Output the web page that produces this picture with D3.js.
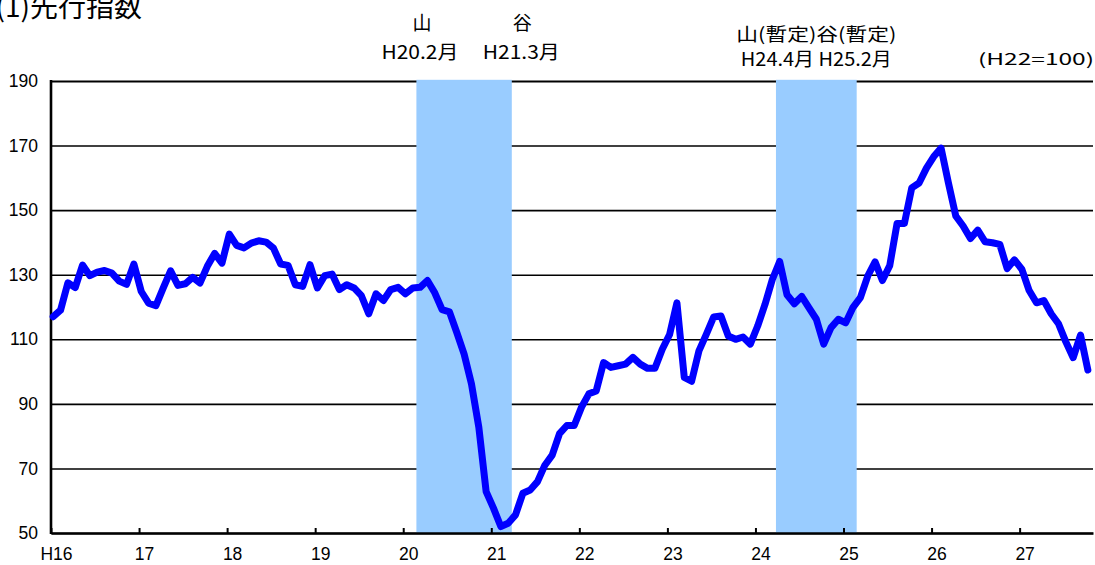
<!DOCTYPE html>
<html>
<head>
<meta charset="utf-8">
<script src="https://cdn.jsdelivr.net/npm/d3@7"></script>
<style>
    body { margin: 0; background: #fff; }
    svg { display: block; font-family: "Noto Sans CJK JP", "Noto Sans", sans-serif; }
</style>
</head>
<body>
<svg id="chart" width="1095" height="565"></svg>
<script>
// 先行指数 (H22=100), monthly from H16.1 to H27.10
var values = [
    117, 119, 127.5, 126, 133, 129.7, 130.8, 131.3, 130.5, 128, 127, 133.3,
    124.8, 121.2, 120.4, 125.9, 131.2, 126.7, 127.2, 129.2, 127.4, 132.6, 136.6, 133.6,
    142.6, 139.1, 138.3, 139.8, 140.5, 140.1, 138.3, 133.3, 132.9, 126.9, 126.4, 133.1,
    125.9, 129.7, 130.2, 125.4, 126.9, 125.9, 123.5, 117.9, 124.1, 122, 125.4, 126.1,
    124.1, 125.9, 126.1, 128.2, 124.4, 119.2, 118.5, 112.1, 105.4, 96.2, 82.8, 62.8,
    57.7, 52, 53, 55.6, 62.3, 63.3, 65.9, 71, 74.1, 80.8, 83.3, 83.3,
    89, 93.1, 94, 102.8, 101.3, 101.8, 102.3, 104.4, 102.3, 101, 101, 106.9,
    111.5, 121.3, 98.2, 97, 106.4, 111.5, 116.9, 117.2, 111, 110, 110.7, 108.5,
    114.1, 120.8, 128.5, 134.1, 123.8, 121, 123.3, 119.7, 116.2, 108.5, 113.6, 116.2,
    115.1, 119.9, 122.9, 129.6, 134, 128.2, 132.8, 145.9, 145.9, 156.9, 158.4, 163,
    166.6, 169.2, 158.4, 148.2, 145.1, 141.2, 143.8, 140.2, 139.9, 139.4, 131.9, 134.6,
    131.7, 125.1, 121.3, 122, 117.9, 114.8, 109.2, 104.3, 111.3, 100.5
];

var yearLabels = ["H16", "17", "18", "19", "20", "21", "22", "23", "24", "25", "26", "27"];
var yTicks = [50, 70, 90, 110, 130, 150, 170, 190];

// recession bands, in month index from H16.1
var bandMonths = [[50, 63], [99, 110]];
var band1Marks = ["山", "谷"];
var band1Dates = ["H20.2月", "H21.3月"];
var band2Mark = "山(暫定)谷(暫定)";
var band2Date = "H24.4月 H25.2月";
var title = "(1)先行指数";
var baseNote = "(H22=100)";

(function () {
    var svg = d3.select("#chart");
    var pLeft = 51, pRight = 1093, pTop = 81, pBottom = 533;

    var x = d3.scaleLinear().domain([0, 142]).range([pLeft, pRight]);
    var y = d3.scaleLinear().domain([50, 190]).range([pBottom, pTop]);

    // gridlines
    var grid = svg.append("g")
        .attr("transform", "translate(" + pLeft + ",0)")
        .call(d3.axisLeft(y).tickValues(yTicks).tickSize(-(pRight - pLeft)).tickFormat(""));
    grid.select(".domain").remove();
    grid.selectAll("line").attr("stroke", "#000").attr("stroke-width", 1.6);
    grid.selectAll(".tick").filter(function (d) { return d == 190; })
        .select("line").attr("stroke-width", 2.2);

    // shaded bands (drawn over the gridlines)
    svg.selectAll("rect.band")
        .data(bandMonths)
        .join("rect")
        .attr("class", "band")
        .attr("x", function (d) { return x(d[0]) - 1.5; })
        .attr("y", pTop - 1.2)
        .attr("width", function (d) { return x(d[1]) - x(d[0]); })
        .attr("height", pBottom - pTop + 1.2)
        .attr("fill", "#99ccff");

    // y labels
    var yAxis = svg.append("g")
        .attr("transform", "translate(" + pLeft + ",0)")
        .call(d3.axisLeft(y).tickValues(yTicks).tickSize(0).tickPadding(13));
    yAxis.select(".domain").remove();
    yAxis.selectAll("text").attr("font-size", 17.5).attr("font-family", null).attr("fill", "#000");

    // x axis
    var xAxis = svg.append("g")
        .attr("transform", "translate(0," + pBottom + ")")
        .call(d3.axisBottom(x)
            .tickValues(d3.range(0, 133, 12))
            .tickSizeInner(-5).tickSizeOuter(0).tickPadding(15)
            .tickFormat(function (d, i) { return yearLabels[i]; }));
    xAxis.select(".domain").attr("stroke", "#000").attr("stroke-width", 2.6);
    xAxis.selectAll("line").attr("stroke", "#000").attr("stroke-width", 2);
    xAxis.selectAll("text").attr("font-size", 17.5).attr("font-family", null).attr("fill", "#000").attr("dx", 5);

    // left axis line
    svg.append("line")
        .attr("x1", pLeft).attr("x2", pLeft)
        .attr("y1", pTop - 1).attr("y2", pBottom + 1)
        .attr("stroke", "#000").attr("stroke-width", 2.6);

    // index line
    var line = d3.line()
        .x(function (d, i) { return x(i + 0.3); })
        .y(function (d) { return y(d); });

    svg.append("path")
        .datum(values)
        .attr("d", line)
        .attr("fill", "none")
        .attr("stroke", "#0000ff")
        .attr("stroke-width", 7)
        .attr("stroke-linejoin", "round")
        .attr("stroke-linecap", "round");

    // header texts
    svg.append("text")
        .attr("x", 142).attr("y", 17)
        .attr("text-anchor", "end")
        .attr("font-size", 28)
        .text(title);

    var b1 = bandMonths[0];
    svg.selectAll("text.mark1")
        .data(band1Marks)
        .join("text")
        .attr("class", "mark1")
        .attr("x", function (d, i) { return i == 0 ? x(b1[0]) + 4 : x(b1[1]) + 9; })
        .attr("y", 30)
        .attr("text-anchor", "middle")
        .attr("font-size", 19)
        .text(function (d) { return d; });

    svg.selectAll("text.date1")
        .data(band1Dates)
        .join("text")
        .attr("class", "date1")
        .attr("x", function (d, i) { return i == 0 ? x(b1[0]) + 2 : x(b1[1]) + 8; })
        .attr("y", 59)
        .attr("text-anchor", "middle")
        .attr("font-size", 19)
        .attr("textLength", 77)
        .attr("lengthAdjust", "spacingAndGlyphs")
        .text(function (d) { return d; });

    var b2 = bandMonths[1];
    var c2 = (x(b2[0]) + x(b2[1])) / 2 - 1.5;
    svg.append("text")
        .attr("x", c2).attr("y", 41)
        .attr("text-anchor", "middle")
        .attr("font-size", 18)
        .attr("textLength", 160)
        .attr("lengthAdjust", "spacingAndGlyphs")
        .text(band2Mark);

    svg.append("text")
        .attr("x", c2).attr("y", 66)
        .attr("text-anchor", "middle")
        .attr("font-size", 19)
        .attr("textLength", 151)
        .attr("lengthAdjust", "spacingAndGlyphs")
        .text(band2Date);

    svg.append("text")
        .attr("x", 1094).attr("y", 65)
        .attr("text-anchor", "end")
        .attr("font-size", 16)
        .attr("textLength", 116)
        .attr("lengthAdjust", "spacingAndGlyphs")
        .text(baseNote);
})();
</script>
</body>
</html>
